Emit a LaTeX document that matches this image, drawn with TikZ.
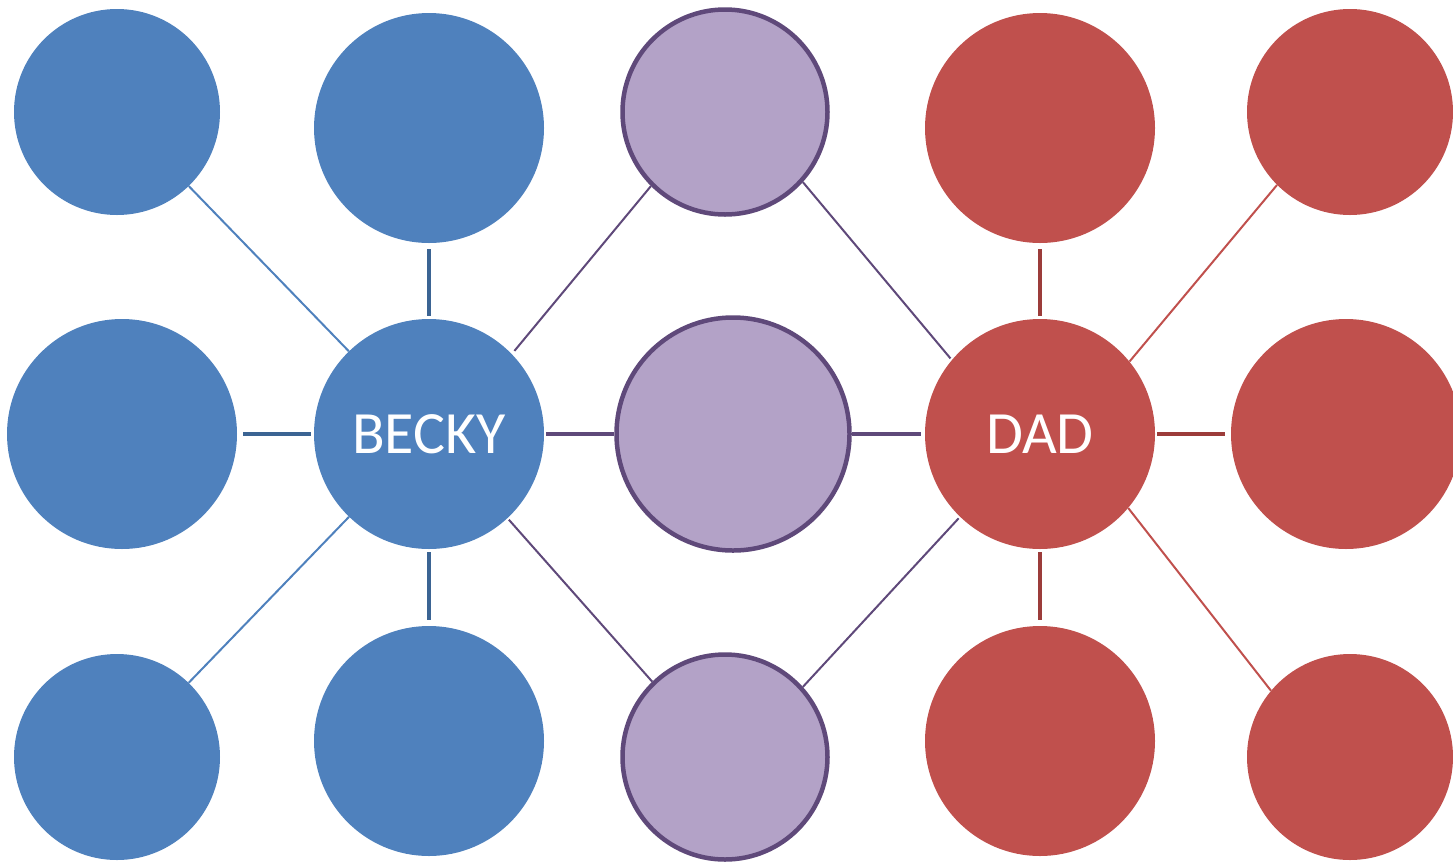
\documentclass[tikz,border=0pt]{standalone}
\usepackage{fontspec}
\setmainfont{Carlito}
\usetikzlibrary{backgrounds}
\definecolor{bfill}{HTML}{4F81BD}
\definecolor{bdark}{HTML}{3B6493}
\definecolor{rfill}{HTML}{C0504D}
\definecolor{rdark}{HTML}{9C3C3A}
\definecolor{pfill}{HTML}{B3A2C7}
\definecolor{pline}{HTML}{5F497A}
\tikzset{
  bnode/.style={circle,fill=bfill,inner sep=0pt,minimum size=#1,text=white,font=\fontsize{60}{60}\selectfont},
  rnode/.style={circle,fill=rfill,inner sep=0pt,minimum size=#1,text=white,font=\fontsize{60}{60}\selectfont},
  pnode/.style={circle,fill=pfill,draw=pline,line width=4.5pt,inner sep=0pt,minimum size=#1},
  thinb/.style={draw=bfill,line width=2pt},
  thinr/.style={draw=rfill,line width=2pt},
  thinp/.style={draw=pline,line width=2pt},
  thickb/.style={draw=bdark,line width=4.5pt},
  thickr/.style={draw=rdark,line width=4.5pt},
  thickp/.style={draw=pline,line width=4.5pt},
}
\begin{document}
\begin{tikzpicture}[x=1pt,y=-1pt]
\useasboundingbox (0,0) rectangle (1453,863);
% blue
\node[bnode=206pt] (b1) at (117,112) {};
\node[bnode=230pt] (b2) at (429,128) {};
\node[bnode=230pt] (b3) at (122,434) {};
\node[bnode=230pt] (becky) at (429,434) {BECKY};
\node[bnode=206pt] (b4) at (117,757) {};
\node[bnode=230pt] (b5) at (429,741) {};
% purple
\node[pnode=205pt] (p1) at (725,112) {};
\node[pnode=233pt] (p2) at (733,434) {};
\node[pnode=205pt] (p3) at (725,757) {};
% red
\node[rnode=230pt] (r1) at (1040,128) {};
\node[rnode=206pt] (r2) at (1350,112) {};
\node[rnode=230pt] (dad) at (1040,434) {DAD};
\node[rnode=230pt] (r3) at (1346,434) {};
\node[rnode=230pt] (r4) at (1040,741) {};
\node[rnode=206pt] (r5) at (1350,757) {};
\begin{pgfonlayer}{background}
% blue connectors
\draw[thinb] (b1) -- (becky);
\draw[thinb] (b4) -- (becky);
\draw[thickb,shorten <=6pt,shorten >=3pt] (b2) -- (becky);
\draw[thickb,shorten <=6pt,shorten >=3pt] (b3) -- (becky);
\draw[thickb,shorten <=3pt,shorten >=6pt] (becky) -- (b5);
% purple connectors
\draw[thinp,shorten <=4pt] (becky.44) -- (p1.225);
\draw[thinp,shorten <=2pt] (becky.-47) -- (p3.134);
\draw[thinp,shorten >=2pt] (p1.-42) -- (dad.140);
\draw[thinp,shorten >=2pt] (p3.42) -- (dad.-134);
\draw[thickp,shorten <=2pt] (becky) -- (p2);
\draw[thickp,shorten >=4pt] (p2) -- (dad);
% red connectors
\draw[thinr] (dad.39) -- (r2.225);
\draw[thinr] (dad.-40) -- (r5.140);
\draw[thickr,shorten <=6pt,shorten >=3pt] (r1) -- (dad);
\draw[thickr,shorten <=2pt,shorten >=6pt] (dad) -- (r3);
\draw[thickr,shorten <=3pt,shorten >=6pt] (dad) -- (r4);
\end{pgfonlayer}
\end{tikzpicture}
\end{document}
